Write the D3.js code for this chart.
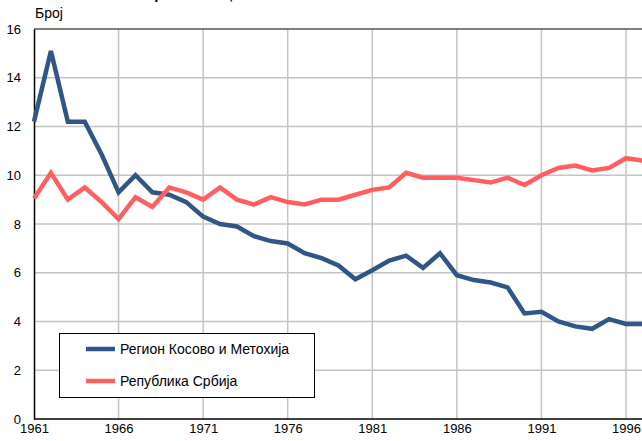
<!DOCTYPE html>
<meta charset="utf-8">
<style>
  body {
    margin: 0;
    background-color: white;
    font-family: "Liberation Sans", Arial, sans-serif;
  }
  svg { display: block; }
  .tick text { font-size: 13px; fill: #000; }
</style>
<body>
  <div id="chart"></div>
  <script src="https://d3js.org/d3.v7.min.js"></script>
  <script>

    // years shown and values
    var years = d3.range(1961, 1998);
    var kosovo = [12.2, 15.1, 12.2, 12.2, 10.85, 9.3, 10.0, 9.3, 9.2, 8.9,
      8.3, 8.0, 7.9, 7.5, 7.3, 7.2, 6.8, 6.6, 6.3, 5.73,
      6.1, 6.5, 6.7, 6.2, 6.8, 5.9, 5.7, 5.6, 5.4, 4.33,
      4.4, 4.0, 3.8, 3.7, 4.1, 3.9, 3.9];
    var srbija = [9.05, 10.1, 9.0, 9.5, 8.9, 8.2, 9.1, 8.7, 9.5, 9.3,
      9.0, 9.5, 9.0, 8.8, 9.1, 8.9, 8.8, 9.0, 9.0, 9.2,
      9.4, 9.5, 10.1, 9.9, 9.9, 9.9, 9.8, 9.7, 9.9, 9.6,
      10.0, 10.3, 10.4, 10.2, 10.3, 10.7, 10.6];
    var xTicks = [1961, 1966, 1971, 1976, 1981, 1986, 1991, 1996];
    var yTicks = [0, 2, 4, 6, 8, 10, 12, 14, 16];
    var seriesNames = ["Регион Косово и Метохија", "Република Србија"];
    var seriesColors = ["#2f5686", "#ff5f5f"];

    var width = 642, height = 441;
    var margin = { top: 29, left: 34, bottom: 22 };

    var svg = d3.select("#chart")
      .append("svg")
      .attr("width", width)
      .attr("height", height);

    // 1961..1996 spans the visible plot, 1997 falls at the cut edge
    var x = d3.scaleLinear()
      .domain([1961, 1996])
      .range([margin.left, 626]);
    var y = d3.scaleLinear()
      .domain([0, 16])
      .range([height - margin.bottom, margin.top]);

    // title, cut off at the top as in the source
    svg.append("text")
      .attr("x", 35)
      .attr("y", -1)
      .attr("font-size", "15px")
      .attr("font-weight", "bold")
      .text("Општа стопа морталитета, 1961–1997");

    svg.append("text")
      .attr("x", 35)
      .attr("y", 18)
      .attr("font-size", "14px")
      .text("Број");

    // grid
    svg.append("g")
      .selectAll("line")
      .data(xTicks.slice(1))
      .enter().append("line")
      .attr("x1", d => x(d)).attr("x2", d => x(d))
      .attr("y1", y(16)).attr("y2", y(0))
      .attr("stroke", "#c4c4c4")
      .attr("stroke-width", 1.5);
    svg.append("g")
      .selectAll("line")
      .data(yTicks.slice(1, -1))
      .enter().append("line")
      .attr("x1", x(1961)).attr("x2", width)
      .attr("y1", d => y(d)).attr("y2", d => y(d))
      .attr("stroke", "#c4c4c4")
      .attr("stroke-width", 1.5);

    // top border
    svg.append("line")
      .attr("x1", x(1961)).attr("x2", width)
      .attr("y1", y(16)).attr("y2", y(16))
      .attr("stroke", "#555")
      .attr("stroke-width", 1.5);

    // axes
    var xAxis = svg.append("g")
      .attr("transform", "translate(0," + y(0) + ")")
      .call(d3.axisBottom(x).tickValues(xTicks).tickFormat(d3.format("d")).tickSize(0).tickPadding(5));
    xAxis.select(".domain").remove();
    xAxis.append("line")
      .attr("x1", x(1961)).attr("x2", width)
      .attr("stroke", "#000").attr("stroke-width", 1.5);

    var yAxis = svg.append("g")
      .attr("transform", "translate(" + x(1961) + ",0)")
      .call(d3.axisLeft(y).tickValues(yTicks).tickSize(0).tickPadding(13));
    yAxis.select(".domain")
      .attr("stroke", "#000").attr("stroke-width", 1.5);

    // lines
    var line = d3.line()
      .x((d, i) => x(years[i]))
      .y(d => y(d));

    [kosovo, srbija].forEach(function (s, i) {
      svg.append("path")
        .datum(s)
        .attr("fill", "none")
        .attr("stroke", seriesColors[i])
        .attr("stroke-width", 4.5)
        .attr("stroke-linejoin", "miter")
        .attr("d", line);
    });

    // legend
    var legend = svg.append("g").attr("transform", "translate(59,333)");
    legend.append("rect")
      .attr("x", 0.5).attr("y", 0.5)
      .attr("width", 255).attr("height", 64)
      .attr("fill", "white")
      .attr("stroke", "#000")
      .attr("stroke-width", 1);
    seriesNames.forEach(function (n, i) {
      var ly = 16 + i * 32;
      legend.append("line")
        .attr("x1", 27).attr("x2", 56)
        .attr("y1", ly).attr("y2", ly)
        .attr("stroke", seriesColors[i])
        .attr("stroke-width", 4.5);
      legend.append("text")
        .attr("x", 61).attr("y", ly + 5)
        .attr("font-size", "14px")
        .text(n);
    });

  </script>
</body>
